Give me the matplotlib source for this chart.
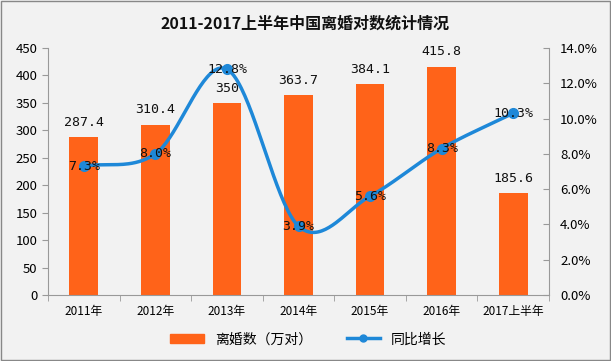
import numpy as np
import matplotlib
matplotlib.use("Agg")
import matplotlib.pyplot as plt
from matplotlib.lines import Line2D
from matplotlib.patches import Patch

plt.rcParams['font.family'] = ['Noto Sans CJK SC', 'DejaVu Sans']

categories = ['2011年', '2012年', '2013年', '2014年', '2015年', '2016年', '2017上半年']
divorces = [287.4, 310.4, 350, 363.7, 384.1, 415.8, 185.6]
growth = [7.3, 8.0, 12.8, 3.9, 5.6, 8.3, 10.3]
bar_labels = ['287.4', '310.4', '350', '363.7', '384.1', '415.8', '185.6']

bar_color = '#FF6319'
line_color = '#1E88D8'
bg = '#F2F2F2'

fig = plt.figure(figsize=(6.11, 3.61), dpi=100, facecolor=bg)
ax = fig.add_axes([0.0786, 0.183, 0.8199, 0.684])
ax.set_facecolor(bg)
ax2 = ax.twinx()

x = np.arange(len(categories))
ax.bar(x, divorces, width=0.4, color=bar_color, zorder=2)
ax.set_xlim(-0.5, len(categories) - 0.5)
ax.set_ylim(0, 450)
ax.set_yticks(np.arange(0, 451, 50))
for xi, v, lab in zip(x, divorces, bar_labels):
    ax.annotate(lab, (xi, v), xytext=(0, 6), textcoords='offset points',
                ha='center', va='bottom', fontsize=9.5, color='#111111',
                family=['DejaVu Sans Mono'])

# Catmull-Rom smoothing through data points
def catmull(xs, ys, n=40):
    xs = np.asarray(xs, float); ys = np.asarray(ys, float)
    px = np.concatenate([[2*xs[0]-xs[1]], xs, [2*xs[-1]-xs[-2]]])
    py = np.concatenate([[2*ys[0]-ys[1]], ys, [2*ys[-1]-ys[-2]]])
    ox, oy = [], []
    for i in range(1, len(px) - 2):
        t = np.linspace(0, 1, n, endpoint=False)
        for P, out in ((px, ox), (py, oy)):
            p0, p1, p2, p3 = P[i-1], P[i], P[i+1], P[i+2]
            out.extend(0.5*((2*p1) + (-p0+p2)*t + (2*p0-5*p1+4*p2-p3)*t**2 + (-p0+3*p1-3*p2+p3)*t**3))
    ox.append(xs[-1]); oy.append(ys[-1])
    return np.array(ox), np.array(oy)

sx, sy = catmull(x, growth)
ax2.plot(sx, sy, color=line_color, lw=2.5, zorder=3, solid_capstyle='round')
ax2.plot(x, growth, 'o', color=line_color, ms=7, zorder=4)
ax2.set_ylim(0, 14)
ax2.set_yticks(np.arange(0, 14.1, 2))
ax2.set_yticklabels([f'{v:.1f}%' for v in np.arange(0, 14.1, 2)])
for xi, g in zip(x, growth):
    ax2.text(xi, g, f'{g:.1f}%', ha='center', va='center', fontsize=9.5,
             color='#111111', zorder=5, family=['DejaVu Sans Mono'])

for a in (ax, ax2):
    a.spines['top'].set_visible(False)
    for s in ('left', 'right', 'bottom'):
        a.spines[s].set_color('#999999')
ax.spines['right'].set_visible(False)
ax2.spines['left'].set_visible(False)
ax2.spines['bottom'].set_visible(False)

ax.set_xticks(x)
ax.set_xticklabels(categories, fontsize=8.5)
ax.set_xticks(np.arange(-0.5, len(categories)), minor=True)
ax.tick_params(axis='x', which='major', length=0, pad=7)
ax.tick_params(axis='x', which='minor', length=4, color='#999999')
ax.tick_params(axis='y', length=4, color='#999999', labelsize=9.5, direction='out')
ax2.tick_params(axis='y', length=4, color='#999999', labelsize=9.5, direction='in', pad=8)

fig.text(0.5, 0.935, '2011-2017上半年中国离婚对数统计情况', ha='center', va='center',
         fontsize=11.5, fontweight='bold', color='#111111')

handles = [Patch(color=bar_color), Line2D([0], [0], color=line_color, lw=2.5, marker='o', ms=5)]
fig.legend(handles, ['离婚数（万对）', '同比增长'], loc='center', bbox_to_anchor=(0.505, 0.06),
           ncol=2, frameon=False, fontsize=10, handlelength=2.4, columnspacing=2.5)

border = plt.Rectangle((0.002, 0.003), 0.996, 0.994, transform=fig.transFigure,
                       fill=False, edgecolor='#888888', lw=1)
fig.patches.append(border)

fig.savefig('out.png', dpi=100, facecolor=bg)
